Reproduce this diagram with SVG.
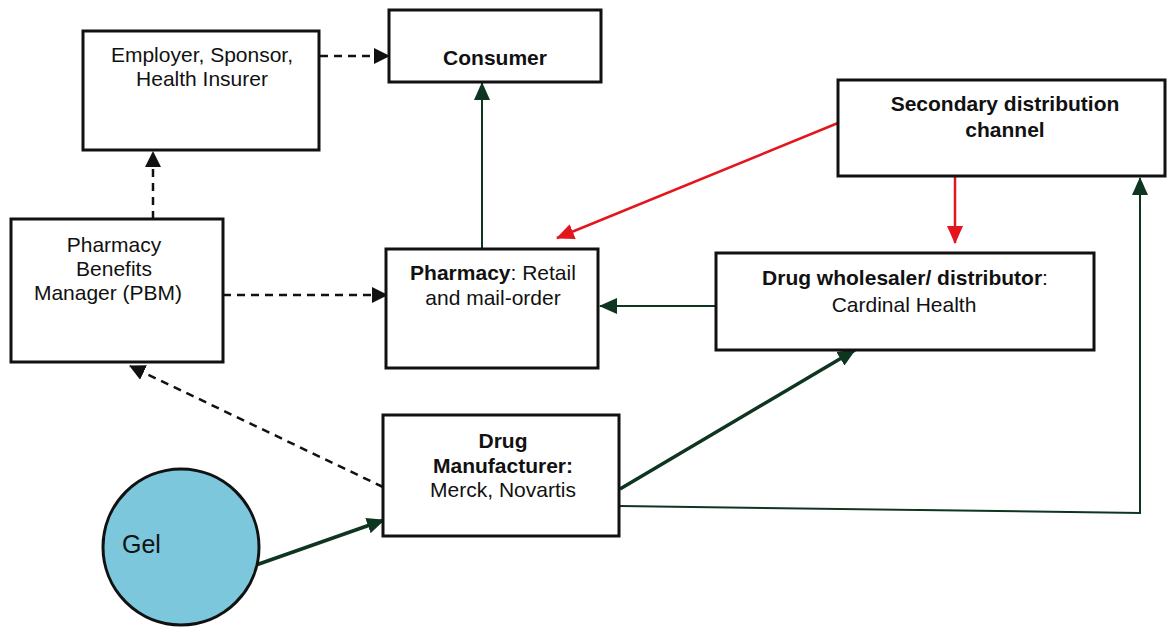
<svg xmlns="http://www.w3.org/2000/svg" width="1167" height="628" viewBox="0 0 1167 628">
<style>
  .box { fill: #ffffff; stroke: #111111; stroke-width: 3; }
  .t { font-family: "Liberation Sans", Arial, sans-serif; font-size: 21px; fill: #111111; text-anchor: middle; }
  .b { font-weight: bold; }
  .dash { fill: none; stroke: #111111; stroke-width: 2.5; stroke-dasharray: 8 6; }
  .green { fill: none; stroke: #0e3520; stroke-width: 2; }
  .greenT { fill: none; stroke: #0e3520; stroke-width: 3.5; }
  .red { fill: none; stroke: #e3161e; stroke-width: 2.5; }
</style>
<defs>
  <marker id="ab" markerUnits="userSpaceOnUse" markerWidth="16" markerHeight="16" refX="15" refY="8" orient="auto">
    <path d="M0,0 L16,8 L0,16 z" fill="#111111"/>
  </marker>
  <marker id="ag" markerUnits="userSpaceOnUse" markerWidth="18" markerHeight="16" refX="17" refY="8" orient="auto">
    <path d="M0,0 L18,8 L0,16 z" fill="#0e3520"/>
  </marker>
  <marker id="ar" markerUnits="userSpaceOnUse" markerWidth="18" markerHeight="16" refX="17" refY="8" orient="auto">
    <path d="M0,0 L18,8 L0,16 z" fill="#e3161e"/>
  </marker>
</defs>
<rect width="1167" height="628" fill="#ffffff"/>

<g id="connectors">
  <line class="dash" x1="320" y1="56" x2="389" y2="56" marker-end="url(#ab)"/>
  <line class="dash" x1="153" y1="219" x2="153" y2="152" marker-end="url(#ab)"/>
  <line class="dash" x1="223" y1="295" x2="387" y2="295" marker-end="url(#ab)"/>
  <line class="dash" x1="383" y1="487" x2="130" y2="366" marker-end="url(#ab)"/>
  <line class="green" x1="482" y1="248" x2="482" y2="83" marker-end="url(#ag)"/>
  <line class="green" x1="716" y1="306" x2="600" y2="306" marker-end="url(#ag)"/>
  <line class="greenT" x1="620" y1="489" x2="855" y2="350" marker-end="url(#ag)"/>
  <line class="greenT" x1="256" y1="565" x2="384" y2="520" marker-end="url(#ag)"/>
  <polyline class="green" points="620,506 1140,513 1140,178" marker-end="url(#ag)"/>
  <line class="red" x1="838" y1="123" x2="557" y2="238" marker-end="url(#ar)"/>
  <line class="red" x1="955" y1="172" x2="955" y2="243" marker-end="url(#ar)"/>
</g>

<g id="employer">
  <rect class="box" x="83" y="31" width="236" height="119"/>
  <text class="t" x="202" y="62">Employer, Sponsor,</text>
  <text class="t" x="202" y="86">Health Insurer</text>
</g>

<g id="consumer">
  <rect class="box" x="389" y="10" width="212" height="72"/>
  <text class="t b" x="495" y="65">Consumer</text>
</g>

<g id="secondary">
  <rect class="box" x="838" y="80" width="327" height="96"/>
  <text class="t b" x="1005" y="111">Secondary distribution</text>
  <text class="t b" x="1005" y="137">channel</text>
</g>

<g id="pbm">
  <rect class="box" x="11" y="219" width="212" height="143"/>
  <text class="t" x="114" y="252">Pharmacy</text>
  <text class="t" x="114" y="276">Benefits</text>
  <text class="t" x="108" y="300">Manager (PBM)</text>
</g>

<g id="pharmacy">
  <rect class="box" x="386" y="249" width="212" height="119"/>
  <text class="t" x="493" y="280"><tspan class="b">Pharmacy</tspan>: Retail</text>
  <text class="t" x="493" y="305">and mail-order</text>
</g>

<g id="wholesaler">
  <rect class="box" x="716" y="253" width="378" height="97"/>
  <text class="t" x="905" y="285"><tspan class="b">Drug wholesaler/ distributor</tspan>:</text>
  <text class="t" x="904" y="312">Cardinal Health</text>
</g>

<g id="manufacturer">
  <rect class="box" x="383" y="415" width="236" height="121"/>
  <text class="t b" x="503" y="448">Drug</text>
  <text class="t b" x="503" y="473">Manufacturer:</text>
  <text class="t" x="503" y="497">Merck, Novartis</text>
</g>

<g id="gel">
  <circle cx="181" cy="547" r="78" fill="#7cc7dc" stroke="#111111" stroke-width="3"/>
  <text class="t" x="122" y="553" style="text-anchor:start;font-size:25px">Gel</text>
</g>
</svg>
